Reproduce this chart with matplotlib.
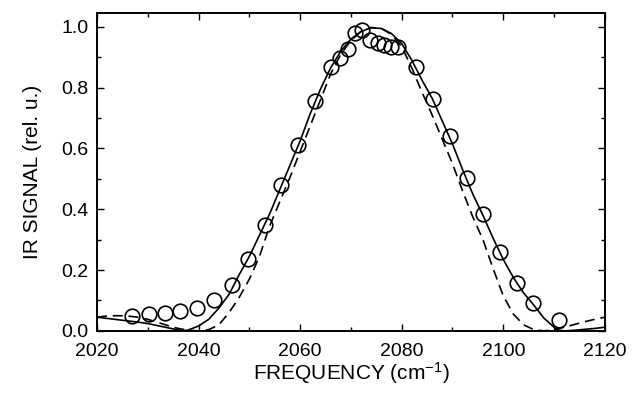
import matplotlib
matplotlib.use("Agg")
import matplotlib.pyplot as plt
from matplotlib.ticker import MultipleLocator

plt.rcParams['font.family'] = ['Liberation Sans', 'DejaVu Sans']
plt.rcParams['mathtext.fontset'] = 'custom'
plt.rcParams['mathtext.rm'] = 'Liberation Sans'
plt.rcParams['mathtext.it'] = 'Liberation Sans'

# measured points (circles)
freq_pts = [2026.8, 2030.3, 2033.4, 2036.4, 2039.7, 2043.0, 2046.5, 2049.7, 2053.0, 2056.3,
            2059.6, 2063.0, 2066.0, 2067.9, 2069.4, 2070.8, 2072.2, 2073.8, 2075.3, 2076.6,
            2077.9, 2079.2, 2082.8, 2086.1, 2089.5, 2092.8, 2096.0, 2099.4, 2102.8, 2105.9,
            2111.0]
sig_pts = [0.050, 0.056, 0.059, 0.065, 0.074, 0.102, 0.151, 0.236, 0.349, 0.479,
           0.613, 0.757, 0.869, 0.898, 0.927, 0.981, 0.990, 0.958, 0.947, 0.939,
           0.935, 0.935, 0.867, 0.763, 0.640, 0.504, 0.386, 0.260, 0.157, 0.091,
           0.036]

# solid curve
freq_solid = [2020, 2022, 2024, 2026, 2028, 2030, 2032, 2034, 2036, 2037, 2038, 2040, 2042,
              2044, 2046, 2048, 2050, 2052, 2054, 2056, 2058, 2060, 2062, 2064, 2066, 2068,
              2070, 2072, 2074, 2076, 2078, 2080, 2082, 2084, 2086, 2088, 2090, 2092, 2094,
              2096, 2098, 2100, 2102, 2104, 2106, 2108, 2110, 2111, 2112, 2114, 2116, 2118,
              2120]
sig_solid = [0.045, 0.041, 0.037, 0.033, 0.029, 0.024, 0.017, 0.010, 0.003, 0.000, 0.003,
             0.016, 0.038, 0.075, 0.120, 0.185, 0.245, 0.315, 0.385, 0.465, 0.545, 0.625,
             0.715, 0.795, 0.865, 0.920, 0.960, 0.985, 0.997, 0.995, 0.978, 0.945, 0.890,
             0.825, 0.765, 0.690, 0.615, 0.530, 0.450, 0.380, 0.305, 0.235, 0.175, 0.125,
             0.085, 0.042, 0.012, 0.002, 0.000, 0.002, 0.005, 0.008, 0.012]

# dashed curve
freq_dash = [2020, 2022, 2024, 2026, 2028, 2030, 2032, 2034, 2036, 2038, 2040, 2042, 2044,
             2046, 2048, 2050, 2052, 2054, 2056, 2058, 2060, 2062, 2064, 2066, 2068, 2070,
             2072, 2074, 2076, 2078, 2080, 2082, 2084, 2086, 2088, 2090, 2092, 2094, 2096,
             2098, 2100, 2102, 2104, 2106, 2108, 2110, 2112, 2114, 2116, 2118, 2120]
sig_dash = [0.045, 0.049, 0.050, 0.049, 0.045, 0.038, 0.028, 0.017, 0.008, 0.002, 0.000,
            0.004, 0.020, 0.060, 0.110, 0.170, 0.245, 0.345, 0.425, 0.505, 0.590, 0.675,
            0.760, 0.845, 0.910, 0.955, 0.985, 0.998, 0.995, 0.975, 0.935, 0.865, 0.785,
            0.710, 0.630, 0.550, 0.460, 0.375, 0.300, 0.205, 0.115, 0.055, 0.020, 0.004,
            0.000, 0.004, 0.012, 0.021, 0.030, 0.038, 0.045]

x_ticks = [2020, 2040, 2060, 2080, 2100, 2120]
y_ticks = [0.0, 0.2, 0.4, 0.6, 0.8, 1.0]

fig = plt.figure(figsize=(6.36, 4.04), dpi=100)
ax = fig.add_axes([0.1525, 0.181, 0.7985, 0.787])

ax.plot(freq_solid, sig_solid, color='black', lw=1.2, solid_joinstyle='round')
ax.plot(freq_dash, sig_dash, color='black', lw=1.2, dashes=(6, 3.5))
ax.plot(freq_pts, sig_pts, linestyle='none', marker='o', markersize=10.5,
        markerfacecolor='none', markeredgecolor='black', markeredgewidth=1.2, zorder=3,
        clip_on=False)

ax.set_xlim(2020, 2120)
ax.set_ylim(0, 1.046)
ax.set_xticks(x_ticks)
ax.set_yticks(y_ticks)
ax.set_xticklabels([str(v) for v in x_ticks])
ax.set_yticklabels([f"{v:.1f}" for v in y_ticks])
ax.xaxis.set_minor_locator(MultipleLocator(10))
ax.yaxis.set_minor_locator(MultipleLocator(0.1))
ax.tick_params(which='both', direction='in', top=True, right=True, width=1.0,
               labelsize=14)
ax.tick_params(axis='x', which='both', pad=9)
ax.tick_params(axis='y', which='both', pad=6)
ax.tick_params(which='major', length=5)
ax.tick_params(which='minor', length=3)
for s in ax.spines.values():
    s.set_linewidth(1.4)

ax.set_xlabel("FREQUENCY (cm$^{-1}$)", fontsize=15, labelpad=0)
ax.set_ylabel("IR SIGNAL (rel. u.)", fontsize=15, labelpad=14)

fig.savefig("out.png", dpi=100)
